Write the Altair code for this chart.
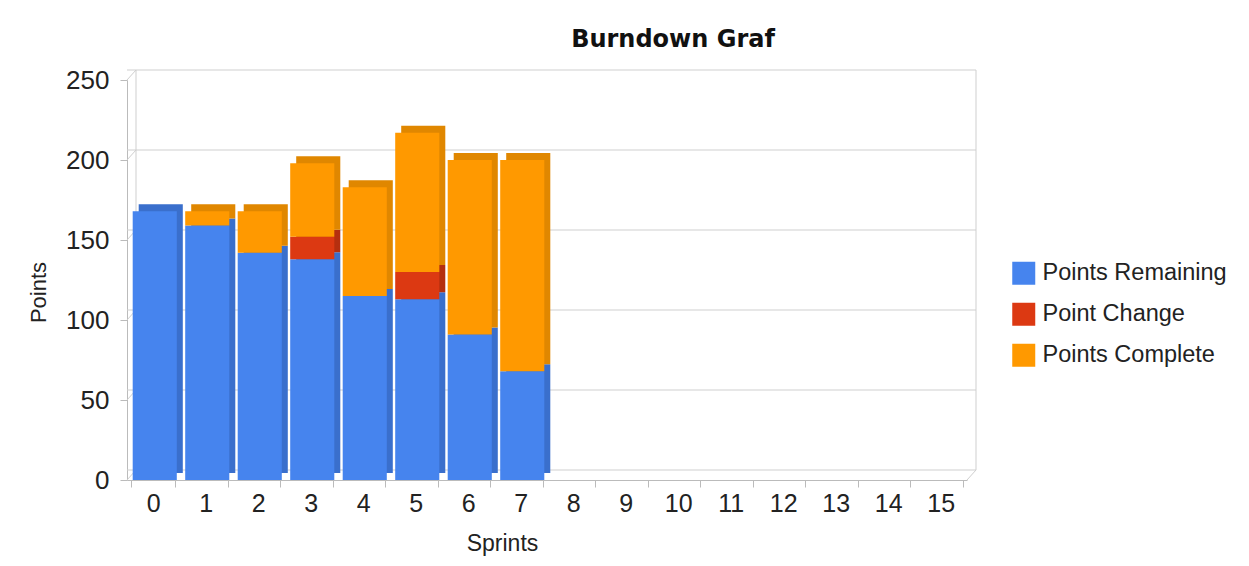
import altair as alt
import pandas as pd

# ---- data ----
sprint_labels = ["0", "1", "2", "3", "4", "5", "6", "7",
                 "8", "9", "10", "11", "12", "13", "14", "15"]
series_names = ["Points Remaining", "Point Change", "Points Complete"]
remaining = [168, 159, 142, 138, 115, 113, 91, 68]
change = [0, 0, 0, 14, 0, 17, 0, 0]
complete = [0, 9, 26, 46, 68, 87, 109, 132]
y_ticks = [0, 50, 100, 150, 200, 250]

front_colors = ["#4684ee", "#dc3912", "#ff9900"]
side_colors = ["#3a6fcc", "#b52f0f", "#e08700"]

rows = []
for i, s in enumerate(sprint_labels[:len(remaining)]):
    for k, vals in enumerate([remaining, change, complete]):
        if vals[i] > 0:
            rows.append({"sprint": s, "series": series_names[k], "order": k, "value": vals[i]})
df = pd.DataFrame(rows)
grid_df = pd.DataFrame({"v": y_ticks})

FONT = "Liberation Sans"
GRID = "#cfcfcf"

x_scale = alt.Scale(domain=sprint_labels, paddingInner=0.16, paddingOuter=0.08)
y_scale = alt.Scale(domain=[y_ticks[0], y_ticks[-1]], nice=False)

grid = alt.Chart(grid_df).mark_rule(color=GRID, xOffset=9, yOffset=-10).encode(
    y=alt.Y("v:Q", scale=y_scale, axis=None)
)
connectors = alt.Chart(grid_df).mark_rule(color=GRID, x2Offset=9, y2Offset=-10).encode(
    x=alt.value(0), x2=alt.value(0),
    y=alt.Y("v:Q", scale=y_scale, axis=None), y2="v:Q"
)
wall_left = alt.Chart(grid_df).mark_rule(color=GRID, xOffset=9, yOffset=-10, y2Offset=-10).encode(
    x=alt.value(0),
    y=alt.Y("min(v):Q", scale=y_scale, axis=None), y2="max(v):Q"
)
wall_right = alt.Chart(grid_df).mark_rule(color=GRID, xOffset=9, yOffset=-10, y2Offset=-10).encode(
    x=alt.value("width"),
    y=alt.Y("min(v):Q", scale=y_scale, axis=None), y2="max(v):Q"
)
corner = alt.Chart(grid_df).mark_rule(color=GRID, x2Offset=9, y2Offset=-10).encode(
    x=alt.value("width"), x2=alt.value("width"),
    y=alt.Y("min(v):Q", scale=y_scale, axis=None), y2="min(v):Q"
)

back = alt.Chart(df).mark_bar(xOffset=7.5, yOffset=-7, y2Offset=-7).encode(
    x=alt.X("sprint:O", scale=x_scale, axis=None),
    y=alt.Y("value:Q", stack="zero", scale=y_scale, axis=None),
    color=alt.Color("series:N", scale=alt.Scale(domain=series_names, range=side_colors), legend=None),
    order=alt.Order("order:Q", sort="ascending"),
)

front = alt.Chart(df).mark_bar(xOffset=1.5).encode(
    x=alt.X(
        "sprint:O", scale=x_scale,
        axis=alt.Axis(
            title="Sprints", labelAngle=0, labelFont=FONT, labelFontSize=25, labelColor="#222",
            tickBand="extent", tickSize=7, tickColor="#bbbbbb", domainColor="#bbbbbb",
            labelPadding=4, grid=False,
            titleFont=FONT, titleFontSize=23, titleFontWeight="normal", titleColor="#222",
            titleX=375, titleY=63, titleBaseline="middle",
        ),
    ),
    y=alt.Y(
        "value:Q", stack="zero", scale=y_scale,
        axis=alt.Axis(
            values=y_ticks, title="Points", labelFont=FONT, labelFontSize=26, labelColor="#222",
            tickSize=7, tickColor="#bbbbbb", domainColor="#bbbbbb", labelPadding=11, grid=False,
            titleFont=FONT, titleFontSize=22, titleFontWeight="normal", titleColor="#222",
            titleX=-89, titleY=212, titleBaseline="middle",
        ),
    ),
    color=alt.Color(
        "series:N", scale=alt.Scale(domain=series_names, range=front_colors),
        legend=alt.Legend(
            title=None, orient="none", legendX=885, legendY=181.5, padding=0,
            symbolType="square", symbolSize=529, symbolStrokeWidth=0, symbolOpacity=1,
            labelFont=FONT, labelFontSize=23.5, labelColor="#222", labelLimit=300,
            labelOffset=7, rowPadding=16,
        ),
    ),
    order=alt.Order("order:Q", sort="ascending"),
)

chart = alt.layer(grid, connectors, wall_left, wall_right, corner, back, front).resolve_scale(
    color="independent"
).resolve_axis(
    x="independent", y="independent"
).properties(
    width=840, height=400,
    autosize=alt.AutoSizeParams(type="none"),
    padding={"left": 119, "top": 72, "right": 274, "bottom": 78},
    title=alt.Title("Burndown Graf", font="DejaVu Sans", fontSize=24, fontWeight="bold",
                    color="#111", anchor="middle", frame="group", dx=126, offset=15),
).configure_view(stroke=None)

chart.save("out.html", embed_options={"renderer": "svg", "actions": False})
